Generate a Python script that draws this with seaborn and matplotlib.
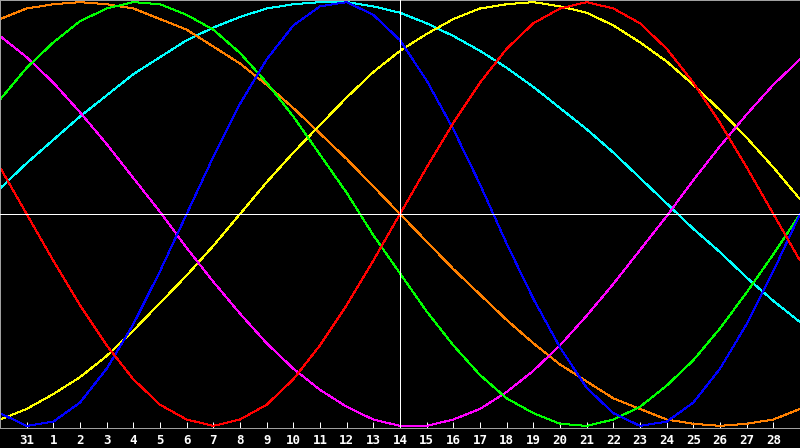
import matplotlib
matplotlib.use("Agg")
import matplotlib.pyplot as plt
import pandas as pd
import seaborn as sns

# days shown: 30th of previous month (-1) .. 1st of next month (29)
days = list(range(-1, 30))
tick_days = list(range(0, 29))
tick_labels = ["31"] + [str(d) for d in range(1, 29)]
today = 14

# cycle values in percent, one per day
emotional = [22, 0, -22, -43, -62, -78, -90, -97, -100, -97, -90, -78, -62, -43, -22, 0,
             22, 43, 62, 78, 90, 97, 100, 97, 90, 78, 62, 43, 22, 0, -22]
physical = [-94, -100, -98, -89, -73, -52, -27, 0, 27, 52, 73, 89, 98, 100, 94, 82,
            63, 40, 14, -14, -40, -63, -82, -94, -100, -98, -89, -73, -52, -27, 0]
intellectual = [54, 69, 81, 91, 97, 100, 99, 94, 87, 76, 62, 46, 28, 10, -10, -28,
                -46, -62, -76, -87, -94, -99, -100, -97, -91, -81, -69, -54, -37, -19, 0]
intuitive = [84, 74, 62, 48, 33, 17, 1, -16, -32, -47, -61, -73, -83, -91, -97, -100,
             -100, -97, -92, -84, -74, -62, -48, -33, -17, -1, 16, 32, 47, 61, 73]
aesthetic = [-97, -92, -85, -77, -67, -55, -42, -29, -15, 0, 15, 29, 42, 55, 67, 77,
             85, 92, 97, 99, 100, 98, 95, 89, 81, 72, 61, 49, 36, 22, 7]
awareness = [92, 97, 99, 100, 99, 97, 92, 87, 79, 71, 61, 50, 38, 26, 13, 0,
             -13, -26, -38, -50, -61, -71, -79, -87, -92, -97, -99, -100, -99, -97, -92]
spiritual = [12, 24, 35, 46, 56, 66, 74, 82, 88, 93, 97, 99, 100, 100, 98, 95,
             90, 84, 77, 69, 60, 50, 40, 29, 17, 5, -7, -18, -30, -41, -51]

cycles = {
    "spiritual": spiritual,
    "awareness": awareness,
    "aesthetic": aesthetic,
    "intuitive": intuitive,
    "intellectual": intellectual,
    "physical": physical,
    "emotional": emotional,
}
palette = {
    "emotional": "#ff0000",
    "physical": "#0000ff",
    "intellectual": "#00ff00",
    "intuitive": "#ff00ff",
    "aesthetic": "#ffff00",
    "awareness": "#ff8000",
    "spiritual": "#00ffff",
}

df = pd.DataFrame(
    [(d, name, v) for name, vals in cycles.items() for d, v in zip(days, vals)],
    columns=["day", "cycle", "value"],
)

px = 0.72  # one pixel at 100 dpi, in points

fig = plt.figure(figsize=(8, 4.48), dpi=100, facecolor="black")
ax = fig.add_axes([0, 20 / 448, 1, 428 / 448])
ax.set_facecolor("black")

sns.lineplot(data=df, x="day", y="value", hue="cycle", palette=palette,
             estimator=None, sort=False, legend=False, linewidth=px, ax=ax)
# thin aliased pixel lines like the original
for line in ax.lines:
    line.set_linewidth(px)
    line.set_antialiased(False)
    line.set_solid_joinstyle("miter")
    line.set_solid_capstyle("butt")

ax.axhline(0, color="white", linewidth=px, zorder=5, antialiased=False)
ax.axvline(today, color="white", linewidth=px, zorder=5, antialiased=False)

ax.set_xlim(-1, 29)
ax.set_ylim(-101, 101)
ax.set_xlabel("")
ax.set_ylabel("")
ax.set_yticks([])
ax.set_xticks(tick_days)
ax.set_xticklabels(tick_labels, color="white", fontsize=9, fontweight="bold",
                   family="DejaVu Sans Mono")
ax.tick_params(axis="x", direction="in", length=4, width=px, color="white", pad=4)

for s in ax.spines.values():
    s.set_color("#a0a0a0")
    s.set_linewidth(px)

fig.savefig("out.png", dpi=100, facecolor="black")
